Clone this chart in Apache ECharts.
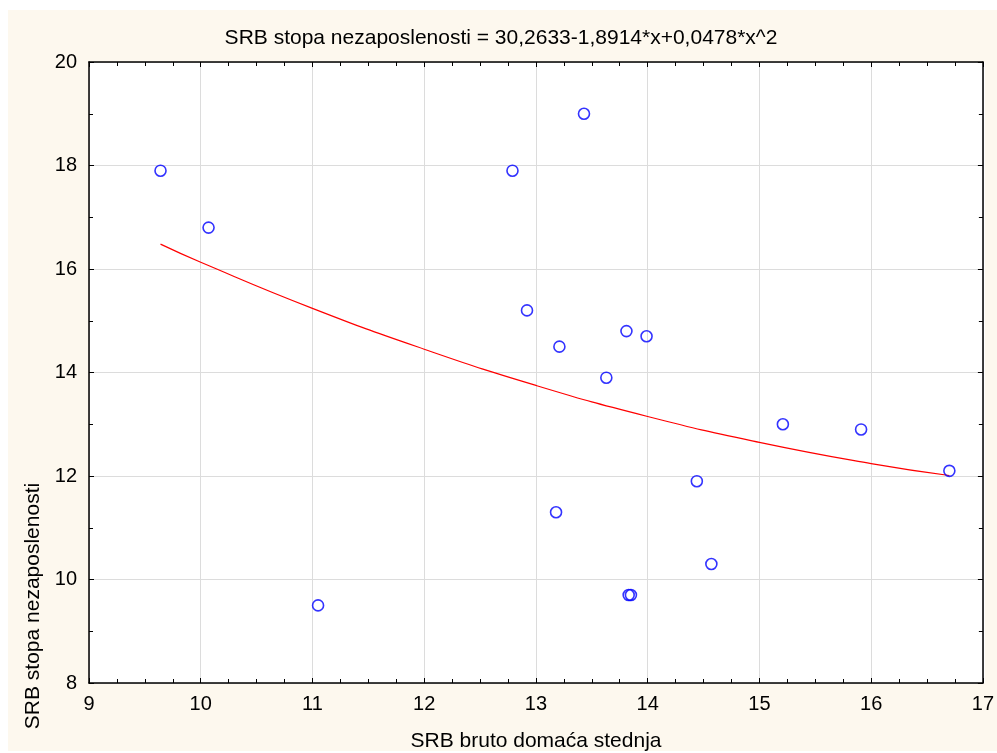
<!DOCTYPE html>
<html><head><meta charset="utf-8">
<script src="https://cdn.jsdelivr.net/npm/echarts@6/dist/echarts.min.js"></script>
<style>html,body{margin:0;padding:0;background:#fff;}#c{width:997px;height:753px;}</style>
</head><body><div id="c"></div>
<script>
const titleText = 'SRB stopa nezaposlenosti = 30,2633-1,8914*x+0,0478*x^2';
const xName = 'SRB bruto domaća stednja';
const yName = 'SRB stopa nezaposlenosti';
const xValues = [9.64, 10.07, 11.05, 12.79, 13.43, 12.92, 13.21, 13.18, 13.63, 13.81, 13.99, 13.83, 13.85, 14.44, 14.57, 15.21, 15.91, 16.70];
const yValues = [17.9, 16.8, 9.5, 17.9, 19.0, 15.2, 14.5, 11.3, 13.9, 14.8, 14.7, 9.7, 9.7, 11.9, 10.3, 13.0, 12.9, 12.1];
const fitX = [9.64, 10, 11, 12, 13, 14, 15, 16, 16.70];
const fitY = [16.48, 16.13, 15.24, 14.45, 13.75, 13.15, 12.65, 12.24, 12.01];

const chart = echarts.init(document.getElementById('c'), null, {renderer:'canvas'});
const font = '"Liberation Sans", Arial, sans-serif';
const L = 89, R = 985, T = 62, B = 683;
chart.setOption({
  backgroundColor: '#ffffff',
  animation: false,
  graphic: [
    {type:'rect', z:-10, shape:{x:8, y:10, width:989, height:741}, style:{fill:'#fdf8ee'}},
    {type:'rect', z:-9, shape:{x:L, y:T, width:R-L, height:B-T}, style:{fill:'#ffffff'}},
    {type:'text', x: 501, y: 38, style:{text:titleText, font:'21px ' + font, fill:'#000', textAlign:'center', textVerticalAlign:'middle'}},
    {type:'text', x: 536, y: 741, style:{text:xName, font:'21px ' + font, fill:'#000', textAlign:'center', textVerticalAlign:'middle'}},
    {type:'text', x: 33, y: 606, rotation: Math.PI/2, style:{text:yName, font:'21px ' + font, fill:'#000', textAlign:'center', textVerticalAlign:'middle'}}
  ],
  grid: {left: L, right: 997 - R, top: T, bottom: 753 - B, show: false},
  xAxis: [{
    type:'value', min:9, max:17, interval:1, position:'bottom',
    axisLine:{show:true, onZero:false, lineStyle:{color:'#000', width:1.5}},
    axisTick:{show:true, inside:true, length:5, lineStyle:{color:'#000'}},
    minorTick:{show:true, splitNumber:4, length:4, lineStyle:{color:'#000'}},
    axisLabel:{color:'#000', fontSize:20, fontFamily: font, margin:11},
    splitLine:{show:true, lineStyle:{color:'#dcdcdc', width:1}}
  },{
    type:'value', min:9, max:17, interval:1, position:'top',
    axisLine:{show:true, onZero:false, lineStyle:{color:'#000', width:1.5}},
    axisTick:{show:true, inside:true, length:5, lineStyle:{color:'#000'}},
    minorTick:{show:true, splitNumber:4, length:4, lineStyle:{color:'#000'}},
    axisLabel:{show:false}, splitLine:{show:false}
  }],
  yAxis: [{
    type:'value', min:8, max:20, interval:2, position:'left',
    axisLine:{show:true, onZero:false, lineStyle:{color:'#000', width:1.5}},
    axisTick:{show:true, inside:true, length:5, lineStyle:{color:'#000'}},
    minorTick:{show:true, splitNumber:2, length:4, lineStyle:{color:'#000'}},
    axisLabel:{color:'#000', fontSize:20, fontFamily: font, margin:12},
    splitLine:{show:true, lineStyle:{color:'#dcdcdc', width:1}}
  },{
    type:'value', min:8, max:20, interval:2, position:'right',
    axisLine:{show:true, onZero:false, lineStyle:{color:'#000', width:1.5}},
    axisTick:{show:true, inside:true, length:5, lineStyle:{color:'#000'}},
    minorTick:{show:true, splitNumber:2, length:4, lineStyle:{color:'#000'}},
    axisLabel:{show:false}, splitLine:{show:false}
  }],
  series: [{
    type:'line', xAxisIndex:0, yAxisIndex:0, smooth:true, symbol:'none',
    data: fitX.map((x,i)=>[x, fitY[i]]),
    lineStyle:{color:'#ff0000', width:1.2}, z:2
  },{
    type:'scatter', xAxisIndex:0, yAxisIndex:0, symbol:'circle', symbolSize:11,
    data: xValues.map((x,i)=>[x, yValues[i]]),
    itemStyle:{color:'rgba(0,0,0,0)', borderColor:'#0000ff', borderWidth:1.6}, z:3
  }]
});
</script></body></html>
